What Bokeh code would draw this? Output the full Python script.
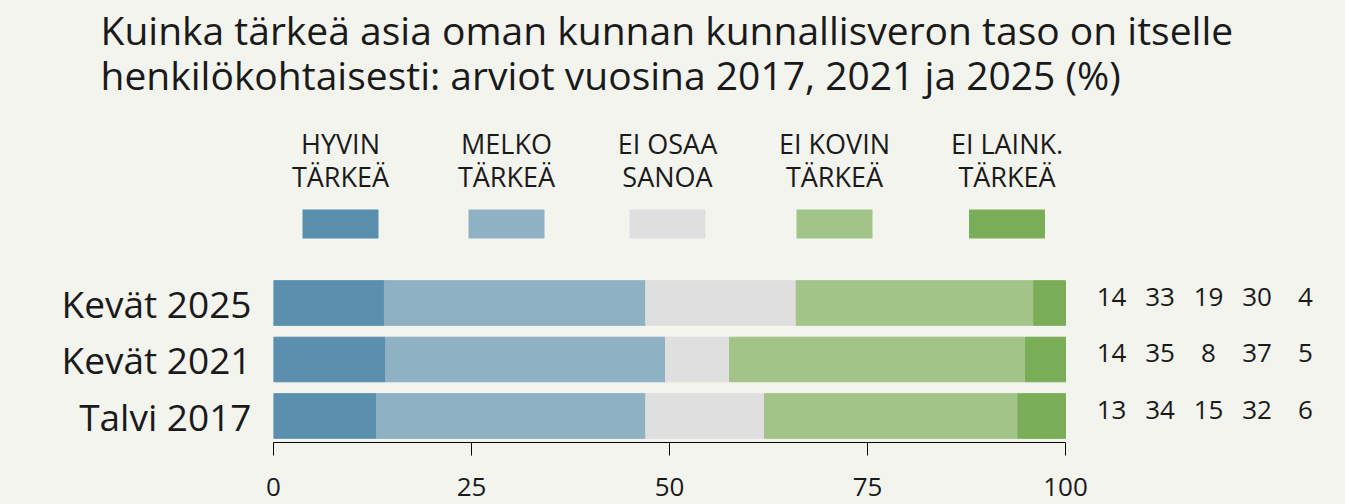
from bokeh.plotting import figure
from bokeh.layouts import column
from bokeh.models import Range1d, FixedTicker, ColumnDataSource
from bokeh.embed import file_html
from bokeh.resources import INLINE
from bokeh.core.properties import value

# ---------------- data ----------------
categories = ["Talvi 2017", "Kevät 2021", "Kevät 2025"]
hyvin_tarkea = [13, 14, 14]
melko_tarkea = [34, 35, 33]
ei_osaa_sanoa = [15, 8, 19]
ei_kovin_tarkea = [32, 37, 30]
ei_laink_tarkea = [6, 5, 4]
series_labels = ["HYVIN\nTÄRKEÄ", "MELKO\nTÄRKEÄ", "EI OSAA\nSANOA", "EI KOVIN\nTÄRKEÄ", "EI LAINK.\nTÄRKEÄ"]
x_ticks = [0, 25, 50, 75, 100]
title_lines = ["Kuinka tärkeä asia oman kunnan kunnallisveron taso on itselle",
               "henkilökohtaisesti: arviot vuosina 2017, 2021 ja 2025 (%)"]

# ---------------- style ----------------
colors = ["#5a8fad", "#8eb1c4", "#dfdfdf", "#a2c488", "#7aad57"]
BG = "#f4f4ef"
INK = "#1a1a1a"
FONT = "Open Sans"

W = 1345
H_HEAD = 250
H_MAIN = 254
FRAME_LEFT = 273
BOTTOM = 62
PXX = 7.92          # px per x unit
PXY = 56.5          # px per category
Y0_PAGE = 415.5     # page pixel of the first category centre
AXIS_PAGE = 442.0


def xd(px):
    return (px - FRAME_LEFT) / PXX


def yd(py):
    return (Y0_PAGE - py) / PXY


# ---------------- header: title + legend ----------------
head = figure(width=W, height=H_HEAD, output_backend="svg", toolbar_location=None,
              x_range=Range1d(0, W), y_range=Range1d(H_HEAD, 0),
              x_axis_location=None, y_axis_location=None,
              min_border=0, min_border_left=0, min_border_right=0,
              min_border_top=0, min_border_bottom=0, frame_align=False)
head.background_fill_color = BG
head.border_fill_color = BG
head.outline_line_color = None
head.grid.visible = False

head.text(x=[100, 100], y=[28.5, 73.5], text=title_lines,
          text_align="left", text_baseline="middle",
          text_font=value(FONT), text_font_size="39px", text_color=INK)

leg_cx = [340, 506, 667, 834, 1006.5]
for j, lab in enumerate(series_labels):
    l1, l2 = lab.split("\n")
    head.rect(x=[leg_cx[j]], y=[223.5], width=76, height=29,
              fill_color=colors[j], line_color=None)
    head.text(x=[leg_cx[j]] * 2, y=[143, 175.5], text=[l1, l2],
              text_align="center", text_baseline="middle",
              text_font=value(FONT), text_font_size="27px", text_color=INK)

# ---------------- main chart ----------------
series = [hyvin_tarkea, melko_tarkea, ei_osaa_sanoa, ei_kovin_tarkea, ei_laink_tarkea]
keys = ["s%d" % i for i in range(len(series))]
totals = [sum(s[i] for s in series) for i in range(len(categories))]
data = {"y": list(range(len(categories)))}
for k, s in zip(keys, series):
    data[k] = [v / t * 100.0 for v, t in zip(s, totals)]
source = ColumnDataSource(data)

p = figure(width=W, height=H_MAIN, output_backend="svg", toolbar_location=None,
           x_range=Range1d(0, (W - FRAME_LEFT) / PXX),
           y_range=Range1d(yd(AXIS_PAGE), yd(H_HEAD)),
           min_border_left=FRAME_LEFT, min_border_right=0,
           min_border_top=0, min_border_bottom=BOTTOM, frame_align=False)
p.background_fill_color = BG
p.border_fill_color = BG
p.outline_line_color = None
p.grid.visible = False

p.hbar_stack(keys, y="y", height=0.79, color=colors, source=source)

# x axis
xa = p.xaxis[0]
xa.ticker = FixedTicker(ticks=x_ticks)
xa.bounds = (0, 100)
xa.minor_tick_line_color = None
xa.major_tick_in = 0
xa.major_tick_out = 13
xa.axis_line_color = "black"
xa.major_tick_line_color = "black"
xa.major_label_text_font = FONT
xa.major_label_text_font_size = "26px"
xa.major_label_text_color = INK
xa.major_label_standoff = 22

# y axis
ya = p.yaxis[0]
ya.ticker = FixedTicker(ticks=list(range(len(categories))))
ya.major_label_overrides = {i: c for i, c in enumerate(categories)}
ya.axis_line_color = None
ya.major_tick_line_color = None
ya.minor_tick_line_color = None
ya.major_tick_out = 0
ya.major_tick_in = 0
ya.major_label_text_font = FONT
ya.major_label_text_font_size = "37px"
ya.major_label_text_color = INK
ya.major_label_standoff = 22

# value columns on the right
col_x = [xd(1111 + 48.5 * j) for j in range(len(series))]
for j, s in enumerate(series):
    src = ColumnDataSource({"x": [col_x[j]] * len(s), "y": data["y"],
                            "t": [str(v) for v in s]})
    p.text(x="x", y="y", text="t", source=src, text_align="center",
           text_baseline="middle", y_offset=-6.5,
           text_font=value(FONT), text_font_size="26px", text_color=INK)

layout = column(head, p, spacing=0)

html = file_html(layout, INLINE)
html = html.replace("<head>", "<head><style>html,body{background:%s;}</style>" % BG, 1)
open("out.html", "w").write(html)
